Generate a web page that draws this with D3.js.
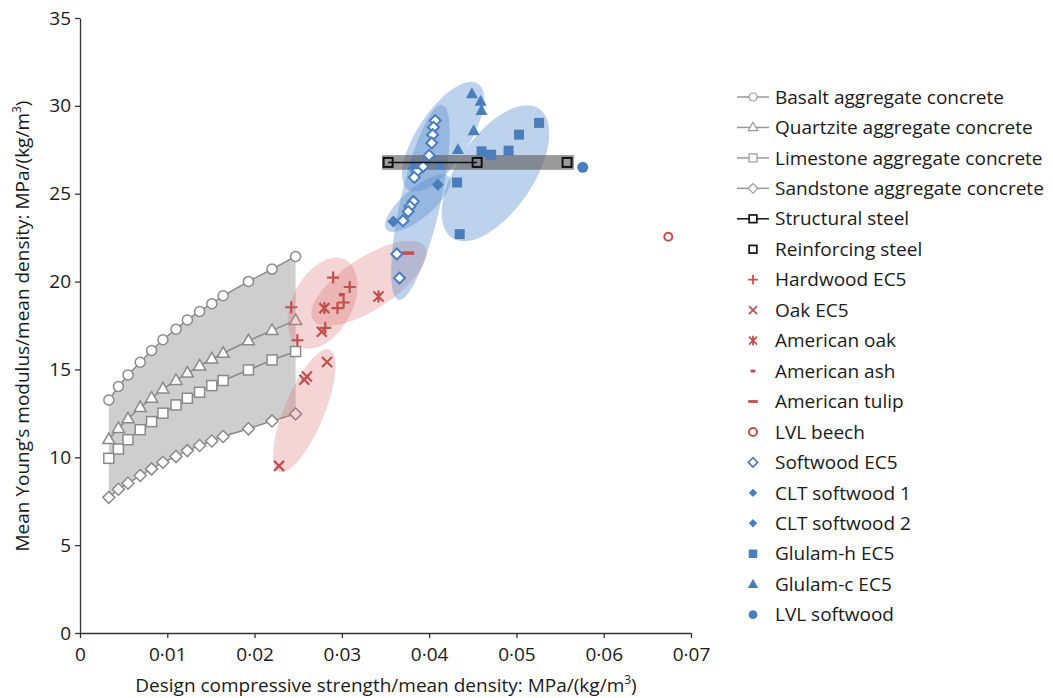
<!DOCTYPE html>
<html><head><meta charset="utf-8">
<script src="https://cdn.jsdelivr.net/npm/d3@7"></script>
<style>body{margin:0;background:#fff}svg{display:block}text{font-family:"Open Sans",sans-serif;fill:#1a1a1a}</style>
</head><body>
<svg id="c" width="1053" height="698"></svg>
<script>
// ---------- DATA ----------
const concreteX = [0.0033,0.0044,0.0055,0.0069,0.0082,0.0095,0.0110,0.0123,0.0137,0.0151,0.0164,0.0193,0.0220,0.0247];
const basaltY    = [13.26,14.03,14.69,15.41,16.08,16.69,17.29,17.82,18.30,18.74,19.19,20.01,20.71,21.43];
const quartziteY = [11.01,11.64,12.19,12.83,13.36,13.89,14.37,14.79,15.20,15.60,15.92,16.63,17.22,17.79];
const limestoneY = [9.94,10.47,11.00,11.57,12.03,12.51,12.98,13.36,13.70,14.08,14.37,14.97,15.54,16.02];
const sandstoneY = [7.72,8.18,8.52,8.96,9.34,9.72,10.04,10.38,10.67,10.93,11.18,11.62,12.07,12.47];
const structuralSteel = [[0.0353,26.78],[0.0455,26.78]];
const reinforcingSteel = [[0.0558,26.78]];
const steelBand = [0.0346,0.0566,26.36,27.20];
const hardwoodEC5 = [[0.0242,18.54],[0.0249,16.66],[0.0290,20.23],[0.0309,19.69],[0.0302,18.81],[0.0295,18.49],[0.0281,17.37]];
const oakEC5 = [[0.0283,15.42],[0.0260,14.60],[0.0257,14.41],[0.0228,9.51],[0.0277,17.14]];
const americanOak = [[0.0280,18.49],[0.0342,19.15]];
const americanAsh = [[0.0300,19.25]];
const americanTulip = [[0.0376,21.62]];
const lvlBeech = [[0.0674,22.55]];
const softwoodEC5 = [[0.0407,29.16],[0.0405,28.78],[0.0404,28.36],[0.0403,27.89],[0.0400,27.18],[0.0393,26.55],[0.0386,26.27],[0.0383,25.93],[0.0382,24.56],[0.0378,24.28],[0.0376,23.99],[0.0370,23.46],[0.0363,21.57],[0.0366,20.20]];
const cltSoftwood1 = [[0.0410,25.51]];
const cltSoftwood2 = [[0.0359,23.42]];
const glulamH = [[0.0526,29.03],[0.0503,28.36],[0.0491,27.45],[0.0471,27.22],[0.0460,27.41],[0.0432,25.64],[0.0435,22.70]];
const glulamC = [[0.0449,30.69],[0.0459,30.26],[0.0460,29.74],[0.0451,28.59],[0.0433,27.51],[0.0382,26.65],[0.0412,26.65]];
const lvlSoftwood = [[0.0576,26.50]];
// grouping ellipses: major-axis end points (data units)
const redEllipses = [[0.0228,9.17,0.0286,16.12],[0.0252,16.30,0.0304,21.24],[0.0267,17.82,0.0395,21.98]];
const blueEllipses = [[0.0426,22.49,0.0526,29.84],[0.0376,25.23,0.0456,31.26],[0.0365,18.96,0.0415,30.07],[0.0351,22.95,0.0423,25.97]];
const redEllipseWidths = [20,30,26];
const blueEllipseWidths = [38,26,20,15];
const xTicks = [0,0.01,0.02,0.03,0.04,0.05,0.06,0.07];
const yTicks = [0,5,10,15,20,25,30,35];
const legendLabels = ["Basalt aggregate concrete","Quartzite aggregate concrete","Limestone aggregate concrete","Sandstone aggregate concrete","Structural steel","Reinforcing steel","Hardwood EC5","Oak EC5","American oak","American ash","American tulip","LVL beech","Softwood EC5","CLT softwood 1","CLT softwood 2","Glulam-h EC5","Glulam-c EC5","LVL softwood"];

// ---------- SETUP ----------
const RED="#c0504d", BLUE="#4a7ebb", GREY="#8a8a8a";
const FS="19px";
const svg=d3.select("#c");
const L=80,R=691,T=18,B=633;
const x=d3.scaleLinear().domain([0,0.07]).range([L,R]);
const y=d3.scaleLinear().domain([0,35]).range([B,T]);

function mark(g,type,cx,cy,color){
  const s=g.append("g").attr("transform",`translate(${cx},${cy})`);
  switch(type){
    case "circleO": s.append("circle").attr("r",5).attr("fill","#fff").attr("stroke",color).attr("stroke-width",1.5);break;
    case "triO": s.append("path").attr("d","M0,-6.5L6,4L-6,4Z").attr("fill","#fff").attr("stroke",color).attr("stroke-width",1.5);break;
    case "sqO": s.append("rect").attr("x",-5).attr("y",-5).attr("width",10).attr("height",10).attr("fill","#fff").attr("stroke",color).attr("stroke-width",1.5);break;
    case "diaO": s.append("path").attr("d","M0,-6L6,0L0,6L-6,0Z").attr("fill","#fff").attr("stroke",color).attr("stroke-width",1.5);break;
    case "steel": s.append("rect").attr("x",-4.5).attr("y",-4.5).attr("width",9).attr("height",9).attr("fill","none").attr("stroke",color).attr("stroke-width",2);break;
    case "steelW": s.append("rect").attr("x",-4.5).attr("y",-4.5).attr("width",9).attr("height",9).attr("fill","#fff").attr("stroke",color).attr("stroke-width",2);break;
    case "plus": s.append("path").attr("d","M-6,0H6M0,-6V6").attr("stroke",color).attr("stroke-width",2.2);break;
    case "cross": s.append("path").attr("d","M-5,-5L5,5M5,-5L-5,5").attr("stroke",color).attr("stroke-width",2.2);break;
    case "star": s.append("path").attr("d","M-5,-5L5,5M5,-5L-5,5M0,-6V6").attr("stroke",color).attr("stroke-width",2.2);break;
    case "dashS": s.append("path").attr("d","M-3,0H3").attr("stroke",color).attr("stroke-width",3.5);break;
    case "dashL": s.append("path").attr("d","M-6,0H6").attr("stroke",color).attr("stroke-width",3.5);break;
    case "circleR": s.append("circle").attr("r",4).attr("fill","#fff").attr("stroke",color).attr("stroke-width",2);break;
    case "diaB": s.append("path").attr("d","M0,-5.5L5.5,0L0,5.5L-5.5,0Z").attr("fill","#fff").attr("stroke",color).attr("stroke-width",2);break;
    case "diaF": s.append("path").attr("d","M0,-6L6,0L0,6L-6,0Z").attr("fill",color);break;
    case "sqF": s.append("rect").attr("x",-5).attr("y",-5).attr("width",10).attr("height",10).attr("fill",color);break;
    case "triF": s.append("path").attr("d","M0,-6.5L6,4.5L-6,4.5Z").attr("fill",color);break;
    case "circleF": s.append("circle").attr("r",5.5).attr("fill",color);break;
  }
}

// ---------- CONCRETE FILL ----------
const poly=concreteX.map((d,i)=>[x(d),y(basaltY[i])]).concat(concreteX.map((d,i)=>[x(d),y(sandstoneY[i])]).reverse());
svg.append("path").attr("d","M"+poly.join("L")+"Z").attr("fill","#b3b3b3").attr("fill-opacity",0.65);

const line=d3.line().x(d=>x(d[0])).y(d=>y(d[1]));
const concrete=[[basaltY,"circleO"],[quartziteY,"triO"],[limestoneY,"sqO"],[sandstoneY,"diaO"]];
const gC=svg.append("g");
concrete.forEach(([ys,t])=>{
  const pts=concreteX.map((d,i)=>[d,ys[i]]);
  gC.append("path").attr("d",line(pts)).attr("fill","none").attr("stroke",GREY).attr("stroke-width",1.5);
  pts.forEach(p=>mark(gC,t,x(p[0]),y(p[1]),GREY));
});

// ---------- ELLIPSES ----------
function ell(e,w,fill,op){
  const x1=x(e[0]),y1=y(e[1]),x2=x(e[2]),y2=y(e[3]);
  const cx=(x1+x2)/2,cy=(y1+y2)/2,a=Math.hypot(x2-x1,y2-y1)/2,ang=Math.atan2(y2-y1,x2-x1)*180/Math.PI;
  svg.append("ellipse").attr("cx",cx).attr("cy",cy).attr("rx",a).attr("ry",w)
    .attr("transform",`rotate(${ang},${cx},${cy})`).attr("fill",fill).attr("fill-opacity",op);
}
redEllipses.forEach((e,i)=>ell(e,redEllipseWidths[i],"#d97070",0.3));
blueEllipses.forEach((e,i)=>ell(e,blueEllipseWidths[i],"#5b8fd0",0.4));

// steel band
svg.append("rect").attr("x",x(steelBand[0])).attr("width",x(steelBand[1])-x(steelBand[0]))
  .attr("y",y(steelBand[3])).attr("height",y(steelBand[2])-y(steelBand[3])).attr("fill","#595959").attr("fill-opacity",0.6);

// ---------- POINTS ----------
const gP=svg.append("g");
[[hardwoodEC5,"plus",RED],[oakEC5,"cross",RED],[americanOak,"star",RED],[americanAsh,"dashS",RED],[americanTulip,"dashL",RED],[lvlBeech,"circleR",RED],
 [softwoodEC5,"diaB",BLUE],[cltSoftwood1,"diaF",BLUE],[cltSoftwood2,"diaF",BLUE],[glulamH,"sqF",BLUE],[glulamC,"triF",BLUE],[lvlSoftwood,"circleF",BLUE]]
 .forEach(([arr,t,c])=>arr.forEach(p=>mark(gP,t,x(p[0]),y(p[1]),c)));
gP.append("path").attr("d",line(structuralSteel)).attr("stroke","#111").attr("stroke-width",1.5).attr("fill","none");
structuralSteel.concat(reinforcingSteel).forEach(p=>mark(gP,"steel",x(p[0]),y(p[1]),"#111"));

// ---------- AXES ----------
const fmt=d=>d===0?"0":d.toFixed(2).replace(".","·");
const ax=svg.append("g").attr("transform",`translate(0,${B})`).call(d3.axisBottom(x).tickValues(xTicks).tickFormat(fmt).tickSize(5).tickSizeOuter(0));
const ay=svg.append("g").attr("transform",`translate(${L},0)`).call(d3.axisLeft(y).tickValues(yTicks).tickSize(5).tickSizeOuter(0));
[ax,ay].forEach(a=>{a.select(".domain").attr("stroke","#333").attr("stroke-width",1.3);a.selectAll(".tick line").attr("stroke","#333").attr("stroke-width",1.3);
  a.selectAll("text").style("font-family","'Open Sans',sans-serif").style("font-size",FS).attr("fill","#1a1a1a");});
ax.selectAll("text").attr("y",10).attr("dy","0.95em");
ay.selectAll("text").attr("x",-9);

const xt=svg.append("text").attr("x",386).attr("y",692).attr("text-anchor","middle").style("font-size",FS);
xt.append("tspan").text("Design compressive strength/mean density: MPa/(kg/m");
xt.append("tspan").text("3").attr("dy",-8).style("font-size","12px");
xt.append("tspan").text(")").attr("dy",8);
const yt=svg.append("text").attr("transform","translate(29,326) rotate(-90)").attr("text-anchor","middle").style("font-size",FS);
yt.append("tspan").text("Mean Young’s modulus/mean density: MPa/(kg/m");
yt.append("tspan").text("3").attr("dy",-8).style("font-size","12px");
yt.append("tspan").text(")").attr("dy",8);

// ---------- LEGEND ----------
const lg=svg.append("g");
const legTypes=[["circleO",GREY,true],["triO",GREY,true],["sqO",GREY,true],["diaO",GREY,true],["steelW","#111",true],["steelW","#111",false],["plus",RED],["cross",RED],["star",RED],["dashS",RED],["dashL",RED],["circleR",RED],["diaB",BLUE],["diaF",BLUE],["diaF",BLUE],["sqF",BLUE],["triF",BLUE],["circleF",BLUE]];
const legSmall={circleO:0.8,triO:0.8,sqO:0.8,diaO:0.8,steelW:0.85,plus:0.8,cross:0.8,star:0.8,dashS:0.8,dashL:0.8,circleR:1,diaB:0.85,diaF:0.7,sqF:0.85,triF:0.85,circleF:0.8};
legendLabels.forEach((lab,i)=>{
  const yy=97+i*30.45;const [t,c,ln]=legTypes[i];
  if(ln) lg.append("line").attr("x1",737).attr("x2",769).attr("y1",yy).attr("y2",yy).attr("stroke",c===GREY?"#999":c).attr("stroke-width",1.5);
  const g=lg.append("g").attr("transform",`translate(753,${yy}) scale(${legSmall[t]})`);
  mark(g,t,0,0,c===GREY?"#999":c);
  lg.append("text").attr("x",775).attr("y",yy).attr("dy","0.35em").style("font-size",FS).text(lab);
});
</script>
</body></html>
